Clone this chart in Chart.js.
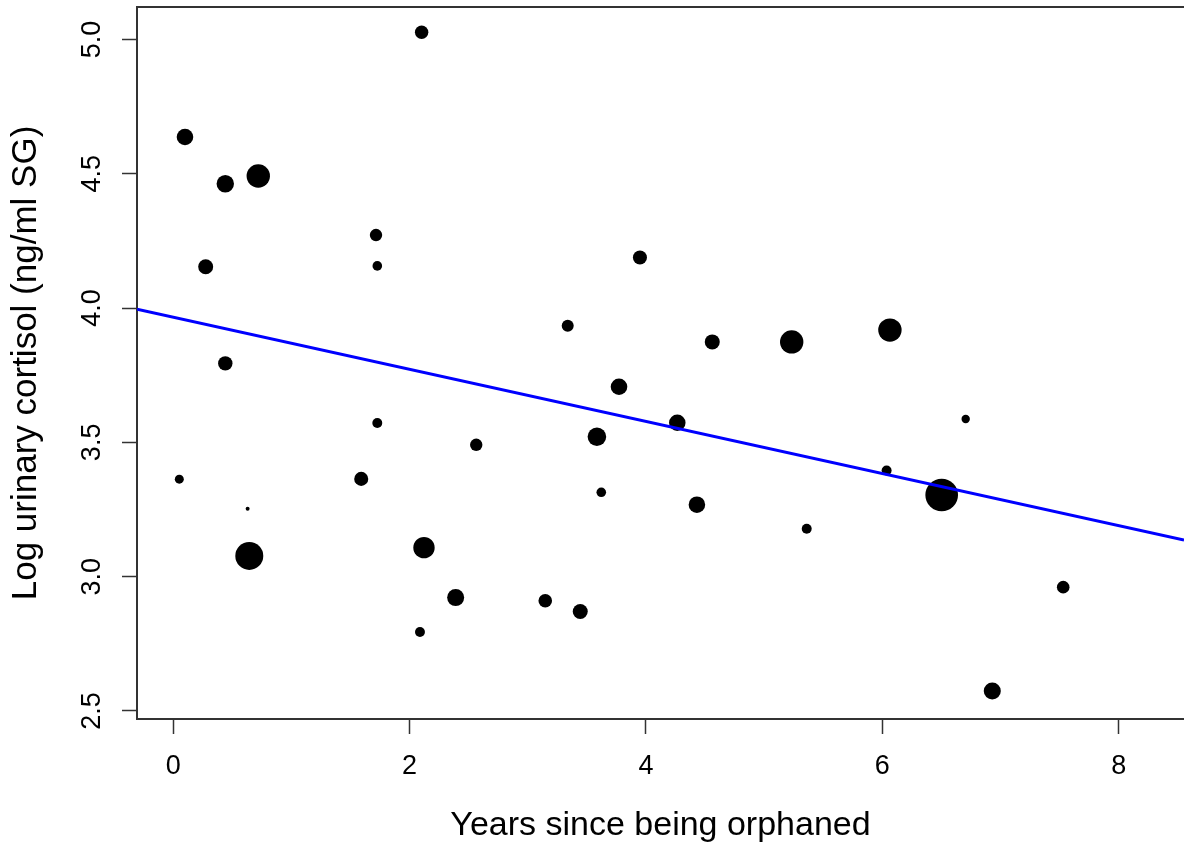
<!DOCTYPE html>
<html>
<head>
<meta charset="utf-8">
<script src="https://cdn.jsdelivr.net/npm/chart.js@4"></script>
<style>
  body { margin: 0; background: #fff; }
  #wrap { width: 1184px; height: 850px; }
</style>
</head>
<body>
<div id="wrap"><canvas id="chart" width="1184" height="850"></canvas></div>
<script>
// Data
const yearsOrphaned = [0.100, 0.441, 0.720, 0.275, 0.441, 0.052, 0.630, 0.644, 1.716, 1.727,
  1.727, 1.591, 2.102, 2.122, 2.088, 2.390, 2.564, 3.148, 3.444, 3.338,
  3.585, 3.622, 3.772, 3.949, 4.265, 4.431, 4.561, 5.233, 5.360, 6.064,
  6.036, 6.502, 6.705, 6.930, 7.530];
const logCortisol = [4.637, 4.463, 4.492, 4.154, 3.794, 3.363, 3.253, 3.077, 4.272, 4.157,
  3.572, 3.364, 5.027, 3.108, 2.794, 2.922, 3.491, 2.910, 2.870, 3.934,
  3.521, 3.314, 3.707, 4.188, 3.573, 3.268, 3.874, 3.874, 3.178, 3.918,
  3.395, 3.304, 3.587, 2.574, 2.961];
// relative symbol size (cex) of each point
const symbolCex = [1.38, 1.45, 1.95, 1.25, 1.20, 0.75, 0.33, 2.33, 1.03, 0.80,
  0.83, 1.17, 1.12, 1.78, 0.83, 1.42, 1.03, 1.13, 1.25, 1.00,
  1.55, 0.80, 1.38, 1.17, 1.38, 1.38, 1.25, 1.95, 0.83, 1.95,
  0.83, 2.72, 0.70, 1.42, 1.05];

// fitted regression line
const fitIntercept = 3.966;
const fitSlope = -0.097;

const xTicks = [0, 2, 4, 6, 8];
const yTicks = [2.5, 3.0, 3.5, 4.0, 4.5, 5.0];
const xRange = [-0.306, 8.552];
const yRange = [2.470, 5.121];

const CEX_PX = 6;
const AXIS_COLOR = '#333';
const FONT = "'Liberation Sans', Arial, sans-serif";

const bubbles = yearsOrphaned.map((x, i) => ({ x: x, y: logCortisol[i], r: symbolCex[i] * CEX_PX }));
const fitLine = xRange.map(x => ({ x: x, y: fitIntercept + fitSlope * x }));

// top border + rotated y labels (R style)
const frame = {
  id: 'frame',
  afterDraw(chart) {
    const { ctx, chartArea, scales } = chart;
    ctx.save();
    ctx.strokeStyle = AXIS_COLOR;
    ctx.lineWidth = 2;
    ctx.beginPath();
    ctx.moveTo(chartArea.left - 1, chartArea.top);
    ctx.lineTo(chartArea.right, chartArea.top);
    ctx.stroke();

    ctx.fillStyle = '#000';
    ctx.font = '27px ' + FONT;
    ctx.textAlign = 'center';
    ctx.textBaseline = 'alphabetic';
    scales.y.ticks.forEach(t => {
      const py = scales.y.getPixelForValue(t.value);
      ctx.save();
      ctx.translate(100, py);
      ctx.rotate(-Math.PI / 2);
      ctx.fillText(t.value.toFixed(1), 0, 0);
      ctx.restore();
    });
    ctx.restore();
  }
};

new Chart(document.getElementById('chart'), {
  type: 'bubble',
  data: {
    datasets: [
      {
        type: 'line',
        data: fitLine,
        borderColor: '#0000FF',
        borderWidth: 3,
        pointRadius: 0,
        fill: false,
        order: 0
      },
      {
        data: bubbles,
        backgroundColor: '#000',
        borderWidth: 0,
        order: 1
      }
    ]
  },
  options: {
    responsive: false,
    animation: false,
    devicePixelRatio: 1,
    layout: { autoPadding: false, padding: { left: 0, top: 7, right: 0, bottom: 0 } },
    plugins: { legend: { display: false }, tooltip: { enabled: false } },
    scales: {
      x: {
        type: 'linear',
        min: xRange[0],
        max: xRange[1],
        afterFit: s => { s.height = 131; },
        afterBuildTicks: s => { s.ticks = xTicks.map(v => ({ value: v })); },
        grid: { drawOnChartArea: false, drawTicks: true, tickLength: 15, tickColor: AXIS_COLOR, tickWidth: 1.5 },
        border: { display: true, color: AXIS_COLOR, width: 2 },
        ticks: { color: '#000', font: { size: 27, family: FONT }, padding: 16, maxRotation: 0, autoSkip: false },
        title: {
          display: true,
          text: 'Years since being orphaned',
          color: '#000',
          font: { size: 34, family: FONT },
          padding: { top: 0, bottom: 4 }
        }
      },
      y: {
        type: 'linear',
        min: yRange[0],
        max: yRange[1],
        afterFit: s => { s.width = 137; },
        afterBuildTicks: s => { s.ticks = yTicks.map(v => ({ value: v })); },
        grid: { drawOnChartArea: false, drawTicks: true, tickLength: 15, tickColor: AXIS_COLOR, tickWidth: 1.5 },
        border: { display: true, color: AXIS_COLOR, width: 2 },
        ticks: { display: false },
        title: {
          display: true,
          text: 'Log urinary cortisol (ng/ml SG)',
          color: '#000',
          font: { size: 35, family: FONT },
          padding: { top: 5, bottom: 0 }
        }
      }
    }
  },
  plugins: [frame]
});
</script>
</body>
</html>
